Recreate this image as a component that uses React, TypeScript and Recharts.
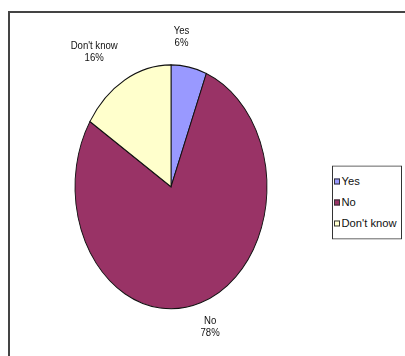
import { PieChart, Pie, Cell, Legend } from "recharts";

const answers = ["Yes", "No", "Don't know"];
const shares = [6, 78, 16];
const sliceColors = ["#9999FF", "#993366", "#FFFFCC"];

// small per-label nudges so the labels sit where Excel put them
const labelDx = [-12, 2, -19];
const labelDy = [-0.6, -4, -1.7];

// the original pie is an ellipse: draw a circle and stretch it vertically
const SY = 1.27;
const TEXT_SY = 1.16;

const data = answers.map((name, i) => ({ name, value: shares[i] }));

const font = '"Liberation Sans", Arial, sans-serif';

function renderLabel(props: any) {
  const { cx, cy, midAngle, index, name, value } = props;
  const R = 120;
  const rad = (midAngle * Math.PI) / 180;
  const x = cx + R * Math.cos(rad) + labelDx[index];
  const y = cy - R * Math.sin(rad) + labelDy[index];
  return (
    <g transform={`translate(${x},${y}) scale(1,${TEXT_SY / SY})`}>
      <text x={0} y={-1.9} textAnchor="middle" fontFamily={font} fontSize={9.6} fill="#111">
        {name}
      </text>
      <text x={0} y={8.2} textAnchor="middle" fontFamily={font} fontSize={9.6} fill="#111">
        {value}%
      </text>
    </g>
  );
}

function LegendBox(props: any) {
  const payload = props.payload || [];
  return (
    <div
      style={{
        transform: `scaleY(${1 / SY})`,
        transformOrigin: "0 0",
        width: 68,
        border: "1px solid #333",
        background: "#fff",
        padding: "4px 0 5px 0",
        fontFamily: font,
        fontSize: 11.2,
        color: "#111",
        boxSizing: "content-box",
      }}
    >
      {payload.map((p: any, i: number) => (
        <div key={i} style={{ height: 21, display: "flex", alignItems: "center", whiteSpace: "nowrap" }}>
          <span
            style={{
              display: "inline-block",
              flex: "none",
              width: 4,
              height: 4,
              marginLeft: 1,
              border: "1px solid #333",
              background: sliceColors[i],
              marginRight: 1.5,
            }}
          />
          {answers[i] ?? p.value}
        </div>
      ))}
    </div>
  );
}

export default function App() {
  return (
    <div
      style={{
        position: "fixed",
        left: 8,
        top: 8,
        width: 397,
        height: 348,
        overflow: "hidden",
        background: "#fff",
      }}
    >
      <div
        style={{
          position: "absolute",
          left: 0,
          top: 3,
          width: 430,
          height: 420,
          border: "2px solid #444",
          boxSizing: "border-box",
        }}
      />
      <div
        style={{
          position: "absolute",
          left: 0,
          top: 0,
          width: 397,
          height: 274,
          transform: `scaleY(${SY})`,
          transformOrigin: "0 0",
        }}
      >
        <PieChart width={397} height={274} margin={{ top: 0, right: 0, bottom: 0, left: 0 }}>
          <Pie
            data={data}
            dataKey="value"
            nameKey="name"
            cx={163}
            cy={140.8}
            outerRadius={96}
            startAngle={90}
            endAngle={-270}
            stroke="#111"
            strokeWidth={0.9}
            label={renderLabel}
            labelLine={false}
            isAnimationActive={false}
          >
            {data.map((d, i) => (
              <Cell key={d.name} fill={sliceColors[i]} />
            ))}
          </Pie>
          <Legend
            layout="vertical"
            align="right"
            verticalAlign="middle"
            content={<LegendBox />}
            wrapperStyle={{ left: 324, top: 123.6, width: 80, right: "auto", bottom: "auto" }}
          />
        </PieChart>
      </div>
    </div>
  );
}
